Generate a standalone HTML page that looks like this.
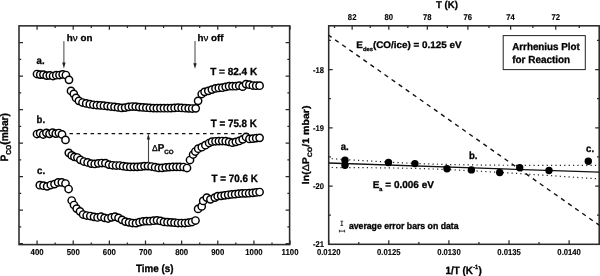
<!DOCTYPE html>
<html><head><meta charset="utf-8"><style>
html,body{margin:0;padding:0;background:#fff;width:600px;height:276px;overflow:hidden}
svg{display:block;position:absolute;left:0;top:0;will-change:transform;filter:blur(0.3px)}
text{font-family:"Liberation Sans", sans-serif;fill:#000;stroke:#000;stroke-width:0.3px;text-rendering:geometricPrecision}
</style></head><body>
<svg width="600" height="276" viewBox="0 0 600 276">
<rect x="19.0" y="25.85" width="270.6" height="218.75" fill="none" stroke="#2a2a2a" stroke-width="1.55"/>
<rect x="328.7" y="25.8" width="270.50000000000006" height="218.5" fill="none" stroke="#2a2a2a" stroke-width="1.55"/>
<path d="M37.07,244.6v-4M37.07,25.85v4M55.14,244.6v-2.2M55.14,25.85v2.2M73.21,244.6v-4M73.21,25.85v4M91.28,244.6v-2.2M91.28,25.85v2.2M109.36,244.6v-4M109.36,25.85v4M127.43,244.6v-2.2M127.43,25.85v2.2M145.50,244.6v-4M145.50,25.85v4M163.57,244.6v-2.2M163.57,25.85v2.2M181.64,244.6v-4M181.64,25.85v4M199.71,244.6v-2.2M199.71,25.85v2.2M217.78,244.6v-4M217.78,25.85v4M235.86,244.6v-2.2M235.86,25.85v2.2M253.93,244.6v-4M253.93,25.85v4M272.00,244.6v-2.2M272.00,25.85v2.2M290.07,244.6v-4M290.07,25.85v4M19.0,42.60h4M289.6,42.60h-4M19.0,59.35h2.2M289.6,59.35h-2.2M19.0,76.10h4M289.6,76.10h-4M19.0,92.85h2.2M289.6,92.85h-2.2M19.0,109.60h4M289.6,109.60h-4M19.0,126.35h2.2M289.6,126.35h-2.2M19.0,143.10h4M289.6,143.10h-4M19.0,159.85h2.2M289.6,159.85h-2.2M19.0,176.60h4M289.6,176.60h-4M19.0,193.35h2.2M289.6,193.35h-2.2M19.0,210.10h4M289.6,210.10h-4M19.0,226.85h2.2M289.6,226.85h-2.2M19.0,243.60h4M289.6,243.60h-4" stroke="#2a2a2a" stroke-width="1.25" fill="none"/>
<path d="M328.70,244.3v-4M358.75,244.3v-2.2M388.80,244.3v-4M418.85,244.3v-2.2M448.90,244.3v-4M478.95,244.3v-2.2M509.00,244.3v-4M539.05,244.3v-2.2M569.10,244.3v-4M579.26,25.8v2.2M555.74,25.8v4M532.88,25.8v2.2M510.62,25.8v4M488.97,25.8v2.2M467.88,25.8v4M447.34,25.8v2.2M427.33,25.8v4M407.82,25.8v2.2M388.80,25.8v4M370.25,25.8v2.2M352.15,25.8v4M334.49,25.8v2.2M328.7,40.48h2.2M599.2,40.48h-2.2M328.7,69.60h4M599.2,69.60h-4M328.7,98.71h2.2M599.2,98.71h-2.2M328.7,127.83h4M599.2,127.83h-4M328.7,156.94h2.2M599.2,156.94h-2.2M328.7,186.06h4M599.2,186.06h-4M328.7,215.17h2.2M599.2,215.17h-2.2" stroke="#2a2a2a" stroke-width="1.25" fill="none"/>
<text transform="translate(37.07 255.20) scale(1.0 1.1)" font-size="7.8" font-weight="bold" text-anchor="middle" style="stroke-width:0.12px">400</text>
<text transform="translate(73.21 255.20) scale(1.0 1.1)" font-size="7.8" font-weight="bold" text-anchor="middle" style="stroke-width:0.12px">500</text>
<text transform="translate(109.36 255.20) scale(1.0 1.1)" font-size="7.8" font-weight="bold" text-anchor="middle" style="stroke-width:0.12px">600</text>
<text transform="translate(145.50 255.20) scale(1.0 1.1)" font-size="7.8" font-weight="bold" text-anchor="middle" style="stroke-width:0.12px">700</text>
<text transform="translate(181.64 255.20) scale(1.0 1.1)" font-size="7.8" font-weight="bold" text-anchor="middle" style="stroke-width:0.12px">800</text>
<text transform="translate(217.78 255.20) scale(1.0 1.1)" font-size="7.8" font-weight="bold" text-anchor="middle" style="stroke-width:0.12px">900</text>
<text transform="translate(253.93 255.20) scale(1.0 1.1)" font-size="7.8" font-weight="bold" text-anchor="middle" style="stroke-width:0.12px">1000</text>
<text transform="translate(290.07 255.20) scale(1.0 1.1)" font-size="7.8" font-weight="bold" text-anchor="middle" style="stroke-width:0.12px">1100</text>
<text transform="translate(154.70 271.80) scale(1.0 1.08)" font-size="9.8" font-weight="bold" text-anchor="middle" >Time (s)</text>
<text transform="translate(7.7,161.6) rotate(-90) scale(1,1.08)" font-size="10" font-weight="bold" textLength="48.6" lengthAdjust="spacingAndGlyphs">P<tspan font-size="6.6" dy="3.1">CO</tspan><tspan dy="-3.1">(mbar)</tspan></text>
<text transform="translate(328.70 255.20) scale(1.0 1.1)" font-size="7.7" font-weight="bold" text-anchor="middle" style="stroke-width:0.12px">0.0120</text>
<text transform="translate(388.80 255.20) scale(1.0 1.1)" font-size="7.7" font-weight="bold" text-anchor="middle" style="stroke-width:0.12px">0.0125</text>
<text transform="translate(448.90 255.20) scale(1.0 1.1)" font-size="7.7" font-weight="bold" text-anchor="middle" style="stroke-width:0.12px">0.0130</text>
<text transform="translate(509.00 255.20) scale(1.0 1.1)" font-size="7.7" font-weight="bold" text-anchor="middle" style="stroke-width:0.12px">0.0135</text>
<text transform="translate(569.10 255.20) scale(1.0 1.1)" font-size="7.7" font-weight="bold" text-anchor="middle" style="stroke-width:0.12px">0.0140</text>
<text transform="translate(324.00 72.50) scale(1.0 1.1)" font-size="7.6" font-weight="bold" text-anchor="end" style="stroke-width:0.12px">-18</text>
<text transform="translate(324.00 130.73) scale(1.0 1.1)" font-size="7.6" font-weight="bold" text-anchor="end" style="stroke-width:0.12px">-19</text>
<text transform="translate(324.00 188.96) scale(1.0 1.1)" font-size="7.6" font-weight="bold" text-anchor="end" style="stroke-width:0.12px">-20</text>
<text transform="translate(324.00 247.19) scale(1.0 1.1)" font-size="7.6" font-weight="bold" text-anchor="end" style="stroke-width:0.12px">-21</text>
<text transform="translate(352.15 19.80) scale(1.0 1.1)" font-size="7.7" font-weight="bold" text-anchor="middle" style="stroke-width:0.12px">82</text>
<text transform="translate(388.80 19.80) scale(1.0 1.1)" font-size="7.7" font-weight="bold" text-anchor="middle" style="stroke-width:0.12px">80</text>
<text transform="translate(427.33 19.80) scale(1.0 1.1)" font-size="7.7" font-weight="bold" text-anchor="middle" style="stroke-width:0.12px">78</text>
<text transform="translate(467.88 19.80) scale(1.0 1.1)" font-size="7.7" font-weight="bold" text-anchor="middle" style="stroke-width:0.12px">76</text>
<text transform="translate(510.62 19.80) scale(1.0 1.1)" font-size="7.7" font-weight="bold" text-anchor="middle" style="stroke-width:0.12px">74</text>
<text transform="translate(555.74 19.80) scale(1.0 1.1)" font-size="7.7" font-weight="bold" text-anchor="middle" style="stroke-width:0.12px">72</text>
<text transform="translate(436.00 8.30) scale(1.0 1.03)" font-size="9.6" font-weight="bold" text-anchor="start" >T (K)</text>
<text transform="translate(445.50 273.60) scale(1.0 1.08)" font-size="9.9" font-weight="bold" text-anchor="start" >1/T (K<tspan font-size="5.6" dy="-4.6" dx="0.2">-1</tspan><tspan dy="4.6" dx="0.3">)</tspan></text>
<text transform="translate(308.6,184.2) rotate(-90)" font-size="9.7" font-weight="bold" textLength="78.6" lengthAdjust="spacingAndGlyphs">ln(<tspan font-weight="normal">&#916;</tspan>P<tspan font-size="6.4" dy="3.6">CO</tspan><tspan dy="-3.6">/1 mbar)</tspan></text>
<g fill="#fff" stroke="#000" stroke-width="1.45"><circle cx="37.00" cy="74.00" r="3.65"/><circle cx="40.21" cy="74.60" r="3.65"/><circle cx="43.42" cy="74.60" r="3.65"/><circle cx="46.63" cy="75.60" r="3.65"/><circle cx="49.84" cy="75.40" r="3.65"/><circle cx="53.06" cy="76.00" r="3.65"/><circle cx="56.27" cy="75.20" r="3.65"/><circle cx="59.48" cy="75.00" r="3.65"/><circle cx="62.69" cy="74.40" r="3.65"/><circle cx="65.90" cy="75.00" r="3.65"/><circle cx="69.00" cy="79.80" r="3.65"/><circle cx="71.00" cy="90.90" r="3.65"/><circle cx="73.80" cy="93.80" r="3.65"/><circle cx="76.00" cy="97.90" r="3.65"/><circle cx="78.90" cy="100.80" r="3.65"/><circle cx="82.50" cy="102.50" r="3.65"/><circle cx="86.20" cy="103.40" r="3.65"/><circle cx="89.80" cy="104.20" r="3.65"/><circle cx="93.35" cy="104.75" r="3.65"/><circle cx="96.88" cy="105.15" r="3.65"/><circle cx="100.41" cy="105.43" r="3.65"/><circle cx="103.94" cy="105.72" r="3.65"/><circle cx="107.47" cy="106.10" r="3.65"/><circle cx="111.00" cy="106.52" r="3.65"/><circle cx="114.53" cy="106.94" r="3.65"/><circle cx="118.06" cy="107.44" r="3.65"/><circle cx="121.59" cy="107.94" r="3.65"/><circle cx="125.12" cy="107.61" r="3.65"/><circle cx="128.65" cy="106.84" r="3.65"/><circle cx="132.18" cy="106.50" r="3.65"/><circle cx="135.71" cy="106.60" r="3.65"/><circle cx="139.24" cy="107.09" r="3.65"/><circle cx="142.77" cy="107.42" r="3.65"/><circle cx="146.31" cy="107.70" r="3.65"/><circle cx="149.84" cy="107.99" r="3.65"/><circle cx="153.37" cy="108.07" r="3.65"/><circle cx="156.90" cy="108.14" r="3.65"/><circle cx="160.43" cy="108.20" r="3.65"/><circle cx="163.96" cy="108.20" r="3.65"/><circle cx="167.49" cy="108.20" r="3.65"/><circle cx="171.02" cy="108.14" r="3.65"/><circle cx="174.55" cy="107.92" r="3.65"/><circle cx="178.08" cy="107.71" r="3.65"/><circle cx="181.61" cy="107.96" r="3.65"/><circle cx="185.14" cy="108.21" r="3.65"/><circle cx="188.67" cy="108.35" r="3.65"/><circle cx="192.20" cy="108.50" r="3.65"/><circle cx="195.70" cy="108.30" r="3.65"/><circle cx="198.10" cy="100.80" r="3.65"/><circle cx="201.70" cy="94.00" r="3.65"/><circle cx="204.60" cy="91.80" r="3.65"/><circle cx="208.30" cy="90.80" r="3.65"/><circle cx="211.90" cy="89.60" r="3.65"/><circle cx="215.50" cy="88.40" r="3.65"/><circle cx="218.80" cy="87.90" r="3.65"/><circle cx="222.30" cy="87.73" r="3.65"/><circle cx="225.69" cy="86.87" r="3.65"/><circle cx="229.08" cy="86.24" r="3.65"/><circle cx="232.47" cy="86.20" r="3.65"/><circle cx="235.86" cy="86.20" r="3.65"/><circle cx="239.25" cy="85.68" r="3.65"/><circle cx="242.65" cy="86.64" r="3.65"/><circle cx="246.04" cy="84.12" r="3.65"/><circle cx="249.43" cy="84.64" r="3.65"/><circle cx="252.82" cy="85.50" r="3.65"/><circle cx="256.21" cy="85.70" r="3.65"/><circle cx="259.60" cy="85.70" r="3.65"/><circle cx="37.00" cy="134.00" r="3.65"/><circle cx="40.12" cy="133.20" r="3.65"/><circle cx="43.25" cy="134.50" r="3.65"/><circle cx="46.38" cy="132.80" r="3.65"/><circle cx="49.50" cy="133.80" r="3.65"/><circle cx="52.62" cy="132.60" r="3.65"/><circle cx="55.75" cy="133.60" r="3.65"/><circle cx="58.88" cy="133.00" r="3.65"/><circle cx="62.00" cy="134.40" r="3.65"/><circle cx="65.50" cy="139.90" r="3.65"/><circle cx="68.80" cy="152.80" r="3.65"/><circle cx="71.70" cy="155.40" r="3.65"/><circle cx="74.40" cy="156.80" r="3.65"/><circle cx="77.40" cy="157.50" r="3.65"/><circle cx="80.40" cy="159.80" r="3.65"/><circle cx="84.00" cy="161.50" r="3.65"/><circle cx="87.60" cy="162.40" r="3.65"/><circle cx="91.20" cy="163.60" r="3.65"/><circle cx="94.75" cy="163.97" r="3.65"/><circle cx="98.30" cy="163.34" r="3.65"/><circle cx="101.85" cy="163.00" r="3.65"/><circle cx="105.40" cy="163.16" r="3.65"/><circle cx="108.95" cy="164.58" r="3.65"/><circle cx="112.50" cy="165.25" r="3.65"/><circle cx="116.05" cy="165.50" r="3.65"/><circle cx="119.60" cy="165.50" r="3.65"/><circle cx="123.15" cy="166.13" r="3.65"/><circle cx="126.70" cy="166.67" r="3.65"/><circle cx="130.25" cy="166.99" r="3.65"/><circle cx="133.80" cy="166.85" r="3.65"/><circle cx="137.35" cy="166.80" r="3.65"/><circle cx="140.90" cy="166.66" r="3.65"/><circle cx="144.45" cy="166.09" r="3.65"/><circle cx="148.00" cy="166.12" r="3.65"/><circle cx="151.55" cy="166.51" r="3.65"/><circle cx="155.10" cy="167.22" r="3.65"/><circle cx="158.65" cy="167.93" r="3.65"/><circle cx="162.20" cy="167.89" r="3.65"/><circle cx="165.75" cy="167.43" r="3.65"/><circle cx="169.30" cy="167.07" r="3.65"/><circle cx="172.85" cy="166.93" r="3.65"/><circle cx="176.40" cy="166.84" r="3.65"/><circle cx="179.95" cy="166.88" r="3.65"/><circle cx="183.50" cy="167.00" r="3.65"/><circle cx="187.00" cy="168.00" r="3.65"/><circle cx="190.00" cy="160.00" r="3.65"/><circle cx="193.10" cy="154.50" r="3.65"/><circle cx="195.30" cy="151.50" r="3.65"/><circle cx="198.20" cy="148.70" r="3.65"/><circle cx="201.80" cy="147.20" r="3.65"/><circle cx="205.40" cy="145.20" r="3.65"/><circle cx="209.10" cy="143.00" r="3.65"/><circle cx="212.00" cy="141.60" r="3.65"/><circle cx="215.50" cy="141.27" r="3.65"/><circle cx="218.89" cy="141.07" r="3.65"/><circle cx="222.28" cy="141.00" r="3.65"/><circle cx="225.68" cy="141.14" r="3.65"/><circle cx="229.07" cy="141.81" r="3.65"/><circle cx="232.46" cy="142.66" r="3.65"/><circle cx="235.85" cy="141.87" r="3.65"/><circle cx="239.25" cy="140.98" r="3.65"/><circle cx="242.64" cy="139.35" r="3.65"/><circle cx="246.03" cy="136.98" r="3.65"/><circle cx="249.42" cy="138.95" r="3.65"/><circle cx="252.82" cy="138.66" r="3.65"/><circle cx="256.21" cy="138.18" r="3.65"/><circle cx="259.60" cy="137.80" r="3.65"/><circle cx="39.80" cy="185.20" r="3.65"/><circle cx="43.47" cy="185.70" r="3.65"/><circle cx="47.14" cy="186.30" r="3.65"/><circle cx="50.81" cy="185.00" r="3.65"/><circle cx="54.49" cy="184.10" r="3.65"/><circle cx="58.16" cy="182.40" r="3.65"/><circle cx="61.83" cy="182.40" r="3.65"/><circle cx="65.50" cy="183.50" r="3.65"/><circle cx="68.60" cy="189.00" r="3.65"/><circle cx="71.70" cy="200.50" r="3.65"/><circle cx="74.00" cy="205.00" r="3.65"/><circle cx="76.70" cy="208.60" r="3.65"/><circle cx="80.00" cy="211.30" r="3.65"/><circle cx="83.10" cy="214.50" r="3.65"/><circle cx="86.70" cy="215.50" r="3.65"/><circle cx="90.30" cy="216.00" r="3.65"/><circle cx="94.00" cy="216.80" r="3.65"/><circle cx="97.55" cy="217.47" r="3.65"/><circle cx="101.05" cy="216.74" r="3.65"/><circle cx="104.55" cy="217.82" r="3.65"/><circle cx="108.04" cy="218.50" r="3.65"/><circle cx="111.54" cy="217.32" r="3.65"/><circle cx="115.04" cy="216.66" r="3.65"/><circle cx="118.54" cy="217.87" r="3.65"/><circle cx="122.04" cy="219.84" r="3.65"/><circle cx="125.54" cy="221.61" r="3.65"/><circle cx="129.03" cy="222.31" r="3.65"/><circle cx="132.53" cy="223.01" r="3.65"/><circle cx="136.03" cy="223.19" r="3.65"/><circle cx="139.53" cy="222.14" r="3.65"/><circle cx="143.03" cy="221.39" r="3.65"/><circle cx="146.52" cy="221.06" r="3.65"/><circle cx="150.02" cy="221.20" r="3.65"/><circle cx="153.52" cy="220.71" r="3.65"/><circle cx="157.02" cy="220.37" r="3.65"/><circle cx="160.52" cy="220.98" r="3.65"/><circle cx="164.01" cy="221.93" r="3.65"/><circle cx="167.51" cy="222.20" r="3.65"/><circle cx="171.01" cy="222.30" r="3.65"/><circle cx="174.51" cy="222.65" r="3.65"/><circle cx="178.01" cy="223.00" r="3.65"/><circle cx="181.51" cy="223.00" r="3.65"/><circle cx="185.00" cy="223.00" r="3.65"/><circle cx="188.50" cy="222.65" r="3.65"/><circle cx="192.00" cy="222.00" r="3.65"/><circle cx="195.50" cy="220.50" r="3.65"/><circle cx="198.10" cy="208.90" r="3.65"/><circle cx="201.70" cy="206.40" r="3.65"/><circle cx="203.20" cy="200.90" r="3.65"/><circle cx="206.80" cy="197.60" r="3.65"/><circle cx="210.40" cy="199.30" r="3.65"/><circle cx="214.80" cy="197.60" r="3.65"/><circle cx="217.70" cy="196.20" r="3.65"/><circle cx="221.20" cy="195.83" r="3.65"/><circle cx="224.69" cy="195.34" r="3.65"/><circle cx="228.18" cy="194.79" r="3.65"/><circle cx="231.67" cy="194.40" r="3.65"/><circle cx="235.16" cy="194.18" r="3.65"/><circle cx="238.65" cy="193.69" r="3.65"/><circle cx="242.15" cy="193.41" r="3.65"/><circle cx="245.64" cy="193.29" r="3.65"/><circle cx="249.13" cy="193.22" r="3.65"/><circle cx="252.62" cy="192.83" r="3.65"/><circle cx="256.11" cy="192.38" r="3.65"/><circle cx="259.60" cy="192.00" r="3.65"/></g>
<text transform="translate(36.60 63.70) scale(1.0 1.08)" font-size="9.6" font-weight="bold" text-anchor="start" >a.</text>
<text transform="translate(36.60 123.00) scale(1.0 1.08)" font-size="9.6" font-weight="bold" text-anchor="start" >b.</text>
<text transform="translate(37.10 173.60) scale(1.0 1.08)" font-size="9.6" font-weight="bold" text-anchor="start" >c.</text>
<text transform="translate(210.20 75.00) scale(1.0 1.03)" font-size="10.0" font-weight="bold" text-anchor="start" >T = 82.4 K</text>
<text transform="translate(210.80 127.00) scale(1.0 1.08)" font-size="9.8" font-weight="bold" text-anchor="start" >T = 75.8 K</text>
<text transform="translate(211.60 182.40) scale(1.0 1.08)" font-size="9.85" font-weight="bold" text-anchor="start" >T = 70.6 K</text>
<text transform="translate(66.80 41.40) scale(1.0 0.95)" font-size="9.8" font-weight="bold" text-anchor="start" >h<tspan font-weight="normal">&#957;</tspan> on</text>
<text transform="translate(197.50 41.10) scale(1.0 0.95)" font-size="9.8" font-weight="bold" text-anchor="start" >h<tspan font-weight="normal">&#957;</tspan> off</text>
<path d="M63.9,41.2V63.5M195,41V64.2" stroke="#444" stroke-width="1"/>
<path d="M62.2,62.5L65.6,62.5L63.9,68.4Z M193.3,63.2L196.7,63.2L195,68.8Z" fill="#222"/>
<path d="M69.45,133.6H249" stroke="#111" stroke-width="1.2" stroke-dasharray="3.5,3.53"/>
<path d="M148.5,139V163.2" stroke="#444" stroke-width="1.1"/>
<path d="M146.8,139.4L150,139.4L148.4,133.8Z" fill="#222"/>
<text transform="translate(151.90 150.50) scale(1.0 1.0)" font-size="9.8" font-weight="bold" text-anchor="start" ><tspan font-weight="normal" font-size="8.6">&#916;</tspan>P<tspan font-size="6.2" dy="3">CO</tspan></text>
<path d="M328.7,35.29L599.2,225.18" stroke="#111" stroke-width="1.4" stroke-dasharray="4.3,4.326" stroke-dashoffset="0.757"/>
<path d="M328.7,163.00L599.2,172.17" stroke="#111" stroke-width="1.3"/>
<polyline points="331.70,158.68 335.08,158.90 338.46,159.12 341.84,159.34 345.22,159.55 348.60,159.77 351.98,159.98 355.36,160.19 358.74,160.40 362.12,160.60 365.50,160.81 368.88,161.01 372.26,161.21 375.64,161.41 379.02,161.60 382.40,161.79 385.78,161.98 389.16,162.16 392.54,162.34 395.92,162.52 399.29,162.69 402.67,162.85 406.05,163.01 409.43,163.17 412.81,163.32 416.19,163.46 419.57,163.60 422.95,163.73 426.33,163.86 429.71,163.97 433.09,164.09 436.47,164.19 439.85,164.29 443.23,164.38 446.61,164.47 449.99,164.55 453.37,164.63 456.75,164.69 460.13,164.76 463.51,164.82 466.89,164.87 470.27,164.92 473.65,164.97 477.03,165.01 480.41,165.05 483.79,165.09 487.17,165.12 490.55,165.15 493.93,165.18 497.31,165.20 500.69,165.23 504.07,165.25 507.45,165.27 510.83,165.28 514.21,165.30 517.59,165.31 520.97,165.33 524.35,165.34 527.73,165.35 531.11,165.36 534.48,165.36 537.86,165.37 541.24,165.38 544.62,165.38 548.00,165.39 551.38,165.39 554.76,165.39 558.14,165.40 561.52,165.40 564.90,165.40 568.28,165.40 571.66,165.40 575.04,165.40 578.42,165.40 581.80,165.40 585.18,165.40 588.56,165.39 591.94,165.39 595.32,165.39 598.70,165.38" fill="none" stroke="#222" stroke-width="1.2" stroke-dasharray="1.2,3.19"/>
<polyline points="331.70,167.52 335.08,167.53 338.46,167.54 341.84,167.55 345.22,167.57 348.60,167.58 351.98,167.60 355.36,167.62 358.74,167.64 362.12,167.66 365.50,167.69 368.88,167.71 372.26,167.74 375.64,167.77 379.02,167.81 382.40,167.85 385.78,167.89 389.16,167.94 392.54,167.99 395.92,168.04 399.29,168.10 402.67,168.16 406.05,168.23 409.43,168.30 412.81,168.38 416.19,168.47 419.57,168.56 422.95,168.66 426.33,168.76 429.71,168.87 433.09,168.99 436.47,169.12 439.85,169.25 443.23,169.38 446.61,169.52 449.99,169.67 453.37,169.83 456.75,169.99 460.13,170.15 463.51,170.32 466.89,170.50 470.27,170.68 473.65,170.86 477.03,171.04 480.41,171.23 483.79,171.43 487.17,171.62 490.55,171.82 493.93,172.02 497.31,172.23 500.69,172.43 504.07,172.64 507.45,172.85 510.83,173.07 514.21,173.28 517.59,173.49 520.97,173.71 524.35,173.93 527.73,174.15 531.11,174.37 534.48,174.59 537.86,174.81 541.24,175.03 544.62,175.26 548.00,175.48 551.38,175.71 554.76,175.93 558.14,176.16 561.52,176.39 564.90,176.62 568.28,176.84 571.66,177.07 575.04,177.30 578.42,177.53 581.80,177.76 585.18,177.99 588.56,178.23 591.94,178.46 595.32,178.69 598.70,178.92" fill="none" stroke="#222" stroke-width="1.2" stroke-dasharray="1.2,3.19"/>
<g fill="#000"><circle cx="345" cy="160.3" r="3.7"/><circle cx="345" cy="165.2" r="3.7"/><circle cx="388.5" cy="162.5" r="3.7"/><circle cx="414.9" cy="163.6" r="3.7"/><circle cx="447" cy="168.7" r="3.7"/><circle cx="471.4" cy="169.9" r="3.7"/><circle cx="499.7" cy="172.5" r="3.7"/><circle cx="519.7" cy="167.8" r="3.7"/><circle cx="549" cy="170.5" r="3.7"/><circle cx="588.3" cy="161.2" r="3.7"/></g>
<text transform="translate(340.70 150.00) scale(1.0 1.08)" font-size="9.6" font-weight="bold" text-anchor="start" >a.</text>
<text transform="translate(468.90 158.90) scale(1.0 1.08)" font-size="9.6" font-weight="bold" text-anchor="start" >b.</text>
<text transform="translate(586.10 152.40) scale(1.0 1.08)" font-size="9.6" font-weight="bold" text-anchor="start" >c.</text>
<text transform="translate(356.30 48.30) scale(1.0 0.97)" font-size="9.9" font-weight="bold" text-anchor="start" >E<tspan font-size="5.8" dy="3.0">des</tspan><tspan dy="-3.0">(CO/ice) = 0.125 eV</tspan></text>
<text transform="translate(372.70 187.60) scale(1.0 1.0)" font-size="10" font-weight="bold" text-anchor="start" >E<tspan font-size="5.6" dy="3.0">a</tspan><tspan dy="-3.0"> = 0.006 eV</tspan></text>
<rect x="503.2" y="35.6" width="82.1" height="34" fill="#fff" stroke="#222" stroke-width="1"/>
<text transform="translate(512.20 50.00) scale(1.0 1.03)" font-size="9.8" font-weight="bold" text-anchor="start" >Arrhenius Plot</text>
<text transform="translate(512.20 63.20) scale(1.0 1.03)" font-size="9.95" font-weight="bold" text-anchor="start" >for Reaction</text>
<path d="M340.5,221.2h2.6M341.8,221.2v4.2M340.5,225.4h2.6 M339.4,229.8v2.6M339.4,231.1h5.2M344.6,229.8v2.6" stroke="#222" stroke-width="0.9"/>
<text transform="translate(348.90 228.60) scale(1.0 1.08)" font-size="8.7" font-weight="bold" text-anchor="start" >average error bars on data</text>
</svg>
</body></html>
